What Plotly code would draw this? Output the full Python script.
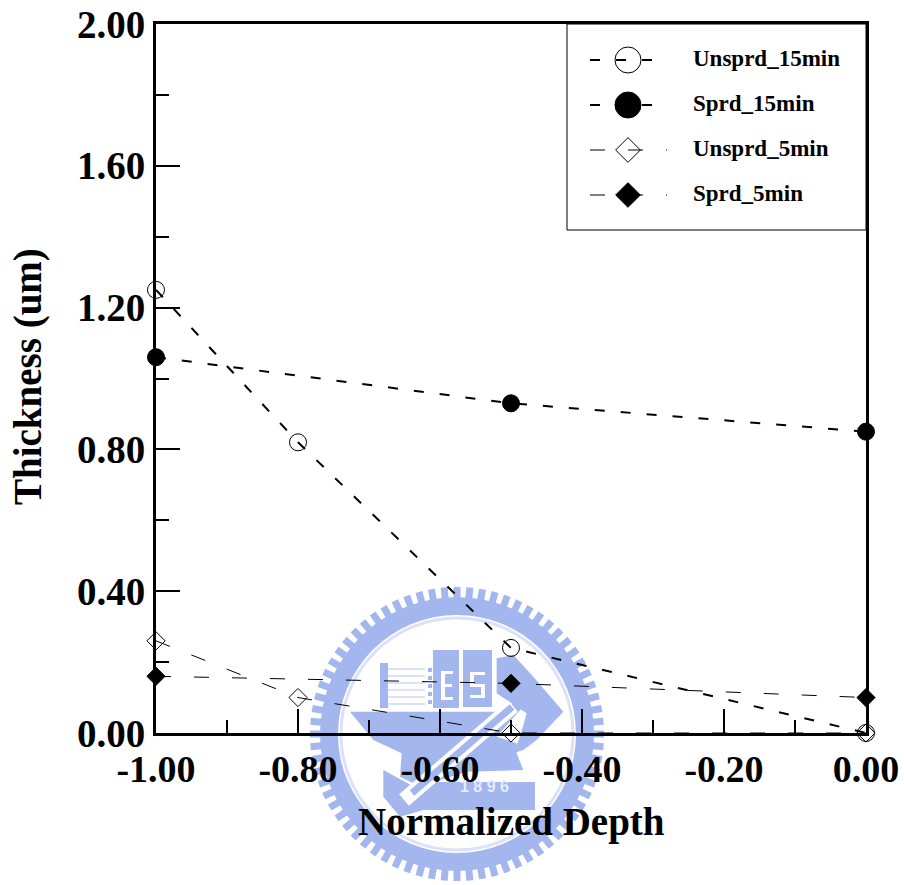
import math
import plotly.graph_objects as go

W, H = 904, 885
L, R, T, B = 156, 866, 24, 733

depth_unsprd_15 = [-1.0, -0.8, -0.5, 0.0]
thick_unsprd_15 = [1.25, 0.82, 0.24, 0.0]
depth_sprd_15 = [-1.0, -0.5, 0.0]
thick_sprd_15 = [1.06, 0.93, 0.85]
depth_unsprd_5 = [-1.0, -0.8, -0.5, 0.0]
thick_unsprd_5 = [0.26, 0.10, 0.0, 0.0]
depth_sprd_5 = [-1.0, -0.5, 0.0]
thick_sprd_5 = [0.16, 0.14, 0.10]

x_tick_vals = [-1.0, -0.8, -0.6, -0.4, -0.2, 0.0]
x_tick_text = ["-1.00", "-0.80", "-0.60", "-0.40", "-0.20", "0.00"]
y_tick_vals = [0.0, 0.4, 0.8, 1.2, 1.6, 2.0]
y_tick_text = ["0.00", "0.40", "0.80", "1.20", "1.60", "2.00"]

names = ["Unsprd_15min", "Sprd_15min", "Unsprd_5min", "Sprd_5min"]
FONT = "Liberation Serif"
DASH15 = "10px,16px"
DASH5 = "15px,23px"

series = [
    (depth_unsprd_15, thick_unsprd_15, names[0], DASH15, 2, "circle-open", 17, 26),
    (depth_sprd_15, thick_sprd_15, names[1], DASH15, 2, "circle", 17, 26),
    (depth_unsprd_5, thick_unsprd_5, names[2], DASH5, 1, "diamond-open", 14, 19),
    (depth_sprd_5, thick_sprd_5, names[3], DASH5, 1, "diamond", 14, 19),
]

fig = go.Figure()
for x, y, name, dash, lw, sym, size, key_size in series:
    fig.add_trace(go.Scatter(
        x=x, y=y, name=name, mode="lines+markers", showlegend=False, cliponaxis=False,
        line=dict(color="black", width=lw, dash=dash),
        marker=dict(symbol=sym, size=size, color="black", opacity=1, line=dict(color="black", width=1)),
    ))

# Legend key, drawn large on its own small axes
key_x = [590, 628, 667]
for i, (x, y, name, dash, lw, sym, size, key_size) in enumerate(series):
    fig.add_trace(go.Scatter(
        x=key_x, y=[i] * 3, xaxis="x2", yaxis="y2", mode="lines+markers", showlegend=False,
        hoverinfo="skip", cliponaxis=False,
        line=dict(color="black", width=lw, dash=dash),
        marker=dict(symbol=sym, size=[0, key_size, 0], color="black", opacity=1,
                    line=dict(color="black", width=1)),
    ))
    fig.add_trace(go.Scatter(
        x=[693], y=[i], xaxis="x2", yaxis="y2", mode="text", text=[name], textposition="middle right",
        showlegend=False, hoverinfo="skip", cliponaxis=False,
        textfont=dict(family=FONT, size=23, color="black", weight="bold"),
    ))


def px(x):
    return (x - L) / (R - L)


def py(y):
    return (B - y) / (B - T)


def paper(kind, x0, y0, x1, y1, **kw):
    return dict(type=kind, xref="paper", yref="paper", x0=px(x0), x1=px(x1), y0=py(y0), y1=py(y1),
                layer="below", **kw)


def poly(pts, color):
    d = "M" + "L".join(f"{px(a):.5f},{py(b):.5f}" for a, b in pts) + "Z"
    return dict(type="path", xref="paper", yref="paper", path=d, fillcolor=color,
                line=dict(width=0), layer="below")


def zpts(pts):
    return [(300 + a / 3, 580 + b / 3) for a, b in pts]


def band(x0, y0, x1, y1, width, color):
    d = f"M{px(x0):.5f},{py(y0):.5f}L{px(x1):.5f},{py(y1):.5f}"
    return dict(type="path", xref="paper", yref="paper", path=d, line=dict(color=color, width=width),
                layer="below")


BLUE = "#a3b6ee"
PALE = "#dbe2f8"
CX, CY = 457, 734
shapes = []
teeth = []
for k in range(72):
    a = 2 * math.pi * k / 72
    teeth.append(f"M{px(CX + 130 * math.cos(a)):.5f},{py(CY + 130 * math.sin(a)):.5f}"
                 f"L{px(CX + 147 * math.cos(a)):.5f},{py(CY + 147 * math.sin(a)):.5f}")
shapes.append(dict(type="path", xref="paper", yref="paper", path="".join(teeth),
                   line=dict(color=BLUE, width=7), layer="below"))


def circle(r, **kw):
    return paper("circle", CX - r, CY - r, CX + r, CY + r, **kw)


shapes.append(circle(137, fillcolor=BLUE, line=dict(width=0)))
shapes.append(circle(119, fillcolor="white", line=dict(width=0)))
shapes.append(circle(116, fillcolor="white", line=dict(color=PALE, width=3)))

# buildings
shapes.append(paper("rect", 380, 663, 388, 708, fillcolor=BLUE, line=dict(width=0)))
for yy in (668, 675, 682, 689, 696, 703):
    shapes.append(paper("rect", 388, yy, 425, yy + 2, fillcolor=PALE, line=dict(width=0)))
for yy in (668, 676, 684, 692, 700):
    shapes.append(paper("rect", 428, yy, 432, yy + 4, fillcolor=BLUE, line=dict(width=0)))
shapes.append(paper("rect", 433, 650, 459, 708, fillcolor=BLUE, line=dict(width=0)))
shapes.append(paper("rect", 463, 650, 492, 707, fillcolor=BLUE, line=dict(width=0)))
for x0, y0, x1, y1 in [(441, 671, 445, 700), (441, 671, 453, 674), (441, 684, 452, 687),
                       (441, 697, 453, 700), (470, 672, 485, 675), (470, 672, 474, 686),
                       (470, 684, 485, 687), (481, 684, 485, 698), (470, 695, 485, 698)]:
    shapes.append(paper("rect", x0, y0, x1, y1, fillcolor="white", line=dict(width=0)))

# bowl, right wedge, lower tool, plate
shapes.append(poly(zpts([(150, 395), (610, 395), (640, 370), (665, 385), (590, 470), (650, 490), (650, 520),
                         (670, 570), (500, 575), (420, 600), (340, 610), (300, 590), (305, 520),
                         (220, 480)]), BLUE))
shapes.append(poly(zpts([(590, 235), (640, 225), (700, 290), (790, 395), (710, 480), (670, 510), (640, 520),
                         (660, 470), (680, 400), (590, 340)]), BLUE))
shapes.append(poly(zpts([(250, 570), (350, 625), (370, 690), (300, 710), (250, 650)]), BLUE))
shapes.append(paper("rect", 418, 782, 535, 810, fillcolor=BLUE, line=dict(width=0)))
# tool bar: white outline with a blue core
shapes.append(band(513, 706, 404, 800, 15, "white"))
shapes.append(band(512, 707, 412, 793, 7, BLUE))

# legend box
shapes.append(paper("rect", 567, 24, 866, 230, fillcolor="white", line=dict(color="black", width=1)))

annotations = [
    dict(text="1 8 9 6", xref="paper", yref="paper", x=px(484), y=py(797), showarrow=False,
         font=dict(family="Liberation Sans", size=16, color="#e8edfb", weight="bold")),
    dict(text="Normalized Depth", xref="paper", yref="paper", x=px(511), y=py(822), showarrow=False,
         xanchor="center", yanchor="middle", font=dict(family=FONT, size=39, color="black", weight="bold")),
    dict(text="Thickness (um)", xref="paper", yref="paper", x=px(28), y=py(377), showarrow=False,
         textangle=-90, xanchor="center", yanchor="middle",
         font=dict(family=FONT, size=39, color="black", weight="bold")),
]

fig.update_layout(
    width=W, height=H, autosize=False, paper_bgcolor="white", plot_bgcolor="rgba(0,0,0,0)",
    margin=dict(l=L, r=W - R, t=T, b=H - B, pad=0),
    font=dict(family=FONT, color="black"),
    showlegend=False, shapes=shapes, annotations=annotations,
    xaxis=dict(
        range=[-1, 0], tickmode="array", tickvals=x_tick_vals, ticktext=x_tick_text, ticks="inside",
        ticklen=24, tickwidth=2, automargin=False,
        tickcolor="black", showgrid=False, zeroline=False, showline=True, linecolor="black", linewidth=3,
        mirror=True, tickfont=dict(family=FONT, size=38, weight="bold"),
        minor=dict(dtick=0.1, tick0=-1, ticks="inside", ticklen=13, tickwidth=2, tickcolor="black", showgrid=False),
    ),
    yaxis=dict(
        range=[0, 2], tickmode="array", tickvals=y_tick_vals, ticktext=y_tick_text, ticks="inside",
        ticklen=24, tickwidth=2, automargin=False,
        tickcolor="black", showgrid=False, zeroline=False, showline=True, linecolor="black", linewidth=3,
        mirror=True, tickfont=dict(family=FONT, size=39, weight="bold"),
        minor=dict(dtick=0.2, tick0=0, ticks="inside", ticklen=13, tickwidth=2, tickcolor="black", showgrid=False),
    ),
    xaxis2=dict(domain=[(567 - L) / (R - L), 1], range=[567, 866], anchor="y2", visible=False, fixedrange=True),
    yaxis2=dict(domain=[py(230), 1], range=[3 + 35 / 45, -36 / 45], anchor="x2", visible=False,
                fixedrange=True),
)

fig.write_html("out.html", config=dict(displayModeBar=False),
               post_script="document.body.style.margin='0';document.documentElement.style.overflow='hidden';")
